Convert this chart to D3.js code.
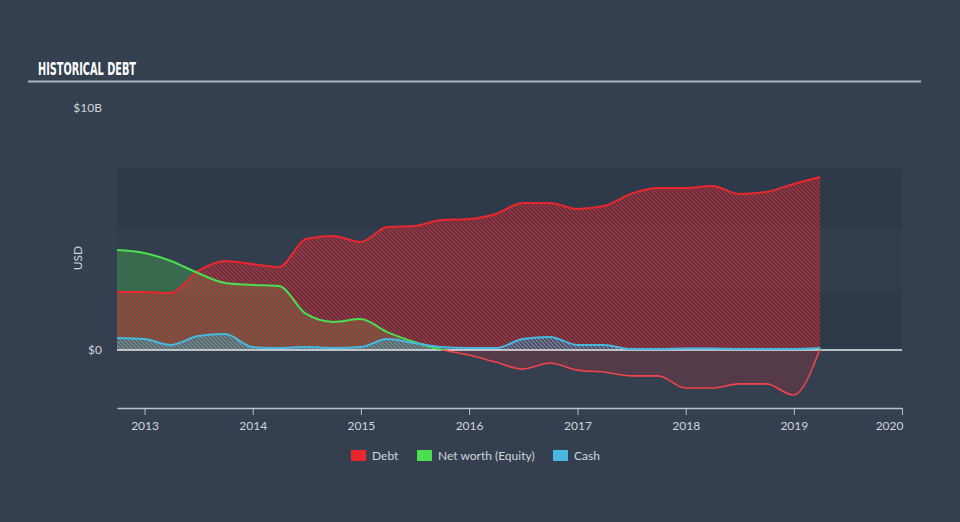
<!DOCTYPE html>
<html>
<head>
<meta charset="utf-8">
<script src="https://cdn.jsdelivr.net/npm/d3@7"></script>
<style>
  html, body { margin: 0; padding: 0; background: #344050; }
  svg { display: block; }
</style>
</head>
<body>
<svg id="chart" width="960" height="522"></svg>
<script>
// ---- Data (quarter ends, values in $B) ----
const dates = [
  "2012-09-30","2012-12-31","2013-03-31","2013-06-30","2013-09-30","2013-12-31",
  "2014-03-31","2014-06-30","2014-09-30","2014-12-31","2015-03-31","2015-06-30",
  "2015-09-30","2015-12-31","2016-03-31","2016-06-30","2016-09-30","2016-12-31",
  "2017-03-31","2017-06-30","2017-09-30","2017-12-31","2018-03-31","2018-06-30",
  "2018-09-30","2018-12-31","2019-03-31"
];
const debt = [2.40,2.40,2.36,3.26,3.68,3.55,3.43,4.59,4.71,4.46,5.08,5.12,
              5.37,5.41,5.62,6.07,6.07,5.83,5.95,6.45,6.69,6.69,6.78,6.45,
              6.53,6.86,7.15];
const equity = [4.13,4.01,3.68,3.18,2.77,2.69,2.64,1.49,1.16,1.28,0.74,0.33,
                0.01,-0.21,-0.50,-0.79,-0.54,-0.83,-0.91,-1.07,-1.07,-1.57,-1.57,-1.40,
                -1.40,-1.86,0.06];
const cash = [0.50,0.45,0.21,0.58,0.66,0.12,0.08,0.12,0.08,0.12,0.45,0.29,
              0.12,0.08,0.08,0.45,0.54,0.21,0.21,0.04,0.04,0.06,0.06,0.04,
              0.04,0.04,0.08];
const yearTicks = [2013,2014,2015,2016,2017,2018,2019,2020];
const yTickValues = [0, 10];
const yTickLabels = ["$0", "$10B"];
const bandRanges = [[0,2.5],[2.5,5],[5,7.5]];
const seriesNames = ["Debt", "Net worth (Equity)", "Cash"];
const seriesColors = ["#e8272f", "#4ade50", "#48b8e0"];

// ---- Setup ----
const svg = d3.select("#chart");
const parse = d3.timeParse("%Y-%m-%d");
const pts = dates.map((d,i)=>({date: parse(d), debt: debt[i], equity: equity[i], cash: cash[i]}));

const x = d3.scaleTime()
  .domain([parse("2012-09-30"), parse("2020-01-01")])
  .range([117, 902]);
const y = d3.scaleLinear().domain([0, 10]).range([350, 108]);
const yBottom = 408;

const defs = svg.append("defs");
function hatch(id, color, op) {
  const p = defs.append("pattern").attr("id", id)
    .attr("patternUnits", "userSpaceOnUse")
    .attr("width", 4).attr("height", 4);
  p.append("path").attr("d", "M-1,3 L1,5 M0,0 L4,4 M3,-1 L5,1")
    .attr("stroke", color).attr("stroke-width", 1.6)
    .attr("stroke-opacity", op).attr("fill", "none");
}
hatch("hRed", seriesColors[0], 0.7);
hatch("hCyan", seriesColors[2], 0.6);

defs.append("clipPath").attr("id", "clipPos")
  .append("rect").attr("x", 0).attr("y", 0).attr("width", 960).attr("height", y(0));
defs.append("clipPath").attr("id", "clipNeg")
  .append("rect").attr("x", 0).attr("y", y(0)).attr("width", 960).attr("height", 200);

// ---- Title ----
svg.append("text")
  .attr("x", 38).attr("y", 75)
  .attr("font-family", "Liberation Sans Narrow, DejaVu Sans Condensed, sans-serif")
  .attr("font-weight", "bold").attr("font-size", 18)
  .attr("fill", "#ffffff")
  .attr("textLength", 98).attr("lengthAdjust", "spacingAndGlyphs")
  .text("HISTORICAL DEBT");
svg.append("line").attr("x1", 28).attr("x2", 921).attr("y1", 81.5).attr("y2", 81.5)
  .attr("stroke", "#aeb6bf").attr("stroke-width", 2);

// ---- Bands ----
const bandFill = ["#2e3a49", "#323e4d", "#2e3a49"];
svg.append("g").selectAll("rect").data(bandRanges).join("rect")
  .attr("x", 117).attr("width", 902 - 117)
  .attr("y", d => y(d[1])).attr("height", d => y(d[0]) - y(d[1]))
  .attr("fill", (d,i) => bandFill[i]);

// ---- Generators ----
const curve = d3.curveMonotoneX;
const areaOf = key => d3.area().curve(curve).x(d => x(d.date)).y0(y(0)).y1(d => y(d[key]));
const lineOf = key => d3.line().curve(curve).x(d => x(d.date)).y(d => y(d[key]));

// Equity fills
svg.append("path").datum(pts).attr("d", areaOf("equity"))
  .attr("fill", seriesColors[1]).attr("fill-opacity", 0.28).attr("clip-path", "url(#clipPos)");
svg.append("path").datum(pts).attr("d", areaOf("equity"))
  .attr("fill", seriesColors[0]).attr("fill-opacity", 0.18).attr("clip-path", "url(#clipNeg)");

// Debt hatched area
svg.append("path").datum(pts).attr("d", areaOf("debt")).attr("fill", "url(#hRed)");
// Cash hatched area
svg.append("path").datum(pts).attr("d", areaOf("cash")).attr("fill", "url(#hCyan)");

// Zero line
svg.append("line").attr("x1", 117).attr("x2", 902).attr("y1", y(0)).attr("y2", y(0))
  .attr("stroke", "#e6e8ea").attr("stroke-width", 1.5);

// Lines
svg.append("path").datum(pts).attr("d", lineOf("debt"))
  .attr("fill", "none").attr("stroke", seriesColors[0]).attr("stroke-width", 2);
svg.append("path").datum(pts).attr("d", lineOf("equity"))
  .attr("fill", "none").attr("stroke", seriesColors[1]).attr("stroke-width", 2)
  .attr("clip-path", "url(#clipPos)");
svg.append("path").datum(pts).attr("d", lineOf("equity"))
  .attr("fill", "none").attr("stroke", "#f0444a").attr("stroke-width", 1.6)
  .attr("clip-path", "url(#clipNeg)");
svg.append("path").datum(pts).attr("d", lineOf("cash"))
  .attr("fill", "none").attr("stroke", seriesColors[2]).attr("stroke-width", 2);

// ---- X axis ----
const xAxis = d3.axisBottom(x)
  .tickValues(yearTicks.map(yv => new Date(yv, 0, 1)))
  .tickFormat(d3.timeFormat("%Y"))
  .tickSize(7).tickSizeOuter(0).tickPadding(6);
const gx = svg.append("g").attr("transform", `translate(0,${yBottom})`).call(xAxis);
gx.select(".domain").attr("stroke", "#b8c2cc").attr("stroke-width", 1.5);
gx.selectAll(".tick line").attr("stroke", "#b8c2cc");
gx.selectAll(".tick text").attr("fill", "#d0d4d9")
  .attr("font-family", "Lato, sans-serif").attr("font-size", 12);
gx.selectAll(".tick").filter((d,i) => i === yearTicks.length - 1)
  .select("text").attr("text-anchor", "end").attr("dx", 1);

// ---- Y labels ----
svg.append("g").selectAll("text").data(yTickValues).join("text")
  .attr("x", 102).attr("y", d => y(d) + 4)
  .attr("text-anchor", "end")
  .attr("font-family", "Lato, sans-serif").attr("font-size", 12)
  .attr("fill", "#d0d4d9")
  .text((d,i) => yTickLabels[i]);
svg.append("text")
  .attr("transform", "translate(82,258) rotate(-90)")
  .attr("text-anchor", "middle")
  .attr("font-family", "Lato, sans-serif").attr("font-size", 12)
  .attr("fill", "#d0d4d9").text("USD");

// ---- Legend ----
const legendX = [351, 417, 553];
const lg = svg.append("g").selectAll("g").data(seriesNames).join("g")
  .attr("transform", (d,i) => `translate(${legendX[i]},450)`);
lg.append("rect").attr("width", 15).attr("height", 11)
  .attr("fill", (d,i) => seriesColors[i]);
lg.append("text").attr("x", 21).attr("y", 10)
  .attr("font-family", "Lato, sans-serif").attr("font-size", 12)
  .attr("fill", "#d0d4d9").text(d => d);
</script>
</body>
</html>
